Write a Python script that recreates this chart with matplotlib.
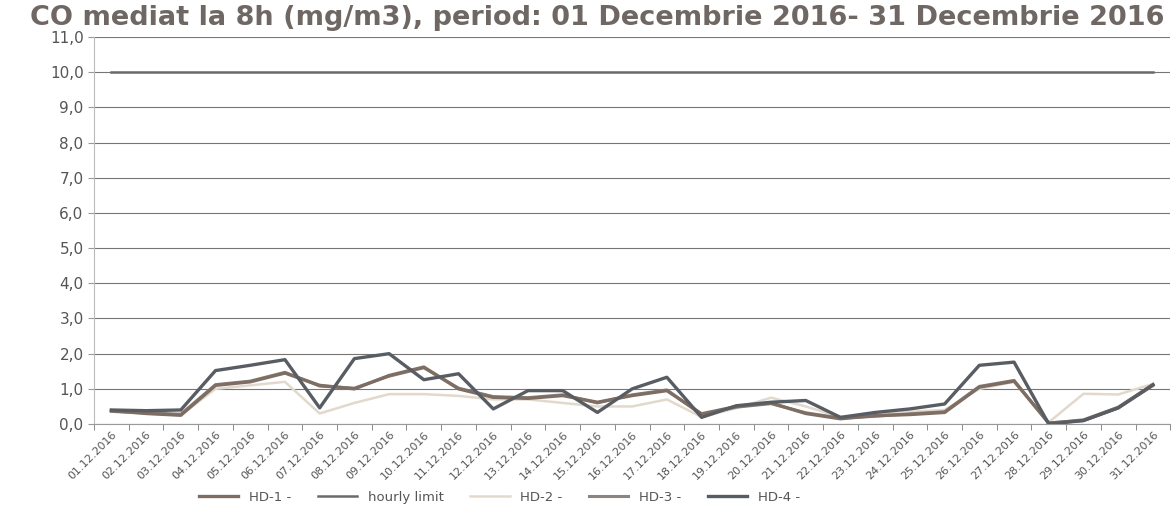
import matplotlib
matplotlib.use("Agg")
import matplotlib.pyplot as plt
import numpy as np

days = [f"{d:02d}.12.2016" for d in range(1, 32)]

hd1 = [0.38, 0.30, 0.25, 1.10, 1.20, 1.45, 1.10, 1.00, 1.38, 1.62, 1.00, 0.76, 0.73, 0.81, 0.62, 0.81,
       0.95, 0.29, 0.50, 0.60, 0.30, 0.15, 0.24, 0.27, 0.33, 1.05, 1.22, 0.03, 0.10, 0.46, 1.10]
hd2 = [0.35, 0.30, 0.25, 1.00, 1.10, 1.20, 0.30, 0.60, 0.85, 0.85, 0.80, 0.70, 0.70, 0.60, 0.50, 0.50,
       0.70, 0.20, 0.45, 0.75, 0.50, 0.20, 0.30, 0.35, 0.40, 1.00, 1.20, 0.05, 0.86, 0.84, 1.14]
hd3 = [0.36, 0.32, 0.28, 1.12, 1.22, 1.47, 1.08, 1.02, 1.36, 1.60, 1.02, 0.78, 0.75, 0.83, 0.60, 0.83,
       0.97, 0.27, 0.48, 0.58, 0.32, 0.17, 0.22, 0.29, 0.35, 1.07, 1.24, 0.02, 0.12, 0.48, 1.12]
hd4 = [0.40, 0.38, 0.40, 1.52, 1.67, 1.83, 0.46, 1.86, 2.00, 1.26, 1.43, 0.43, 0.95, 0.95, 0.33, 1.00,
       1.33, 0.19, 0.52, 0.62, 0.67, 0.19, 0.33, 0.43, 0.57, 1.67, 1.76, 0.00, 0.10, 0.46, 1.12]
hourly_limit = [10.0] * 31

yticks = np.arange(0, 11.5, 1.0)
ytick_labels = [f"{v:.1f}".replace(".", ",") for v in yticks]

title = "CO mediat la 8h (mg/m3), period: 01 Decembrie 2016- 31 Decembrie 2016"

fig = plt.figure(figsize=(11.75, 5.14), dpi=100)
ax = fig.add_axes([0.080, 0.175, 0.916, 0.753])

x = np.arange(len(days))
ax.plot(x, hourly_limit, color="#6e6a6a", lw=1.8, label="hourly limit", zorder=3)
ax.plot(x, hd2, color="#e2d9cc", lw=1.8, label="HD-2 -", zorder=3)
ax.plot(x, hd3, color="#8a8580", lw=2.2, label="HD-3 -", zorder=4)
ax.plot(x, hd1, color="#7d6d62", lw=2.4, label="HD-1 -", zorder=5)
ax.plot(x, hd4, color="#585c63", lw=2.4, label="HD-4 -", zorder=6)

ax.set_xlim(-0.5, len(days) - 0.5)
ax.set_ylim(0, 11)
ax.set_yticks(yticks)
ax.set_yticklabels(ytick_labels, fontsize=11, color="#555555")
ax.set_xticks(x)
ax.set_xticklabels(days, rotation=45, ha="right", rotation_mode="anchor", fontsize=8, color="#555555")
ax.set_xticks(np.arange(-0.5, len(days), 1.0), minor=True)
ax.tick_params(axis="x", which="major", length=0, pad=4)
ax.tick_params(axis="x", which="minor", length=4, color="#777777")
ax.tick_params(axis="y", length=4, color="#999999")
ax.grid(axis="y", color="#7a7575", lw=0.8, zorder=1)
for s in ["top", "right"]:
    ax.spines[s].set_visible(False)
ax.spines["left"].set_color("#bbbbbb")
ax.spines["bottom"].set_color("#999999")

fig.text(0.508, 0.965, title, ha="center", va="center", fontsize=19.5, fontweight="bold", color="#6f6763")

handles, labels = ax.get_legend_handles_labels()
order = ["HD-1 -", "hourly limit", "HD-2 -", "HD-3 -", "HD-4 -"]
hmap = dict(zip(labels, handles))
fig.legend([hmap[k] for k in order], order, loc="center", bbox_to_anchor=(0.425, 0.033), ncol=5,
           frameon=False, fontsize=9.5, handlelength=3.0, columnspacing=2.0, labelcolor="#555555")

fig.savefig("out.png", dpi=100, facecolor="white")
